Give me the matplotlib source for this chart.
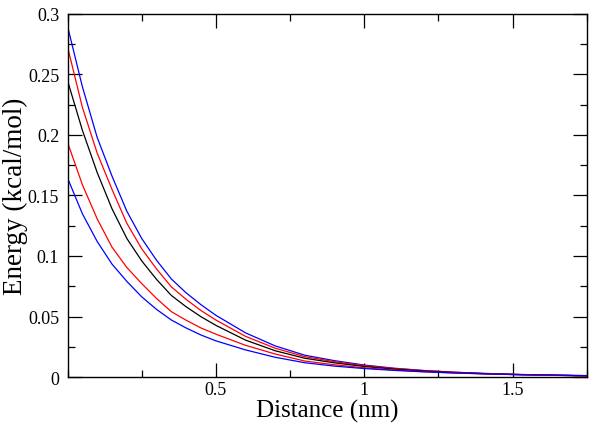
import matplotlib
matplotlib.use("Agg")
import matplotlib.pyplot as plt
from matplotlib.ticker import MultipleLocator

distance = [0, 0.05, 0.1, 0.15, 0.2, 0.25, 0.3, 0.35, 0.4, 0.45, 0.5,
            0.6, 0.7, 0.8, 0.9, 1.0, 1.1, 1.2, 1.3, 1.4, 1.5, 1.6, 1.75]

blue_top = [0.290, 0.240, 0.198, 0.166, 0.137, 0.1145, 0.0965, 0.081, 0.0695, 0.0597, 0.051,
            0.0365, 0.0257, 0.018, 0.0135, 0.0099, 0.0073, 0.0054, 0.0040, 0.0030, 0.0022, 0.0016, 0.0010]
red_top = [0.273, 0.223, 0.185, 0.155, 0.127, 0.106, 0.0893, 0.0745, 0.0641, 0.0549, 0.0471,
           0.0336, 0.0238, 0.0168, 0.0127, 0.0094, 0.0070, 0.0053, 0.0040, 0.0030, 0.0023, 0.0017, 0.0011]
black_mid = [0.245, 0.204, 0.169, 0.139, 0.1145, 0.096, 0.0807, 0.0674, 0.058, 0.0498, 0.0427,
             0.0305, 0.0217, 0.0155, 0.0117, 0.0087, 0.0065, 0.0049, 0.0037, 0.0028, 0.0021, 0.0016, 0.0010]
red_bottom = [0.194, 0.159, 0.1307, 0.1073, 0.0905, 0.0772, 0.0649, 0.054, 0.0469, 0.0405, 0.0354,
              0.0262, 0.019, 0.0132, 0.0101, 0.0076, 0.0058, 0.0044, 0.0034, 0.0026, 0.0020, 0.0015, 0.0010]
blue_bottom = [0.1645, 0.135, 0.112, 0.0933, 0.079, 0.0663, 0.0559, 0.0471, 0.0405, 0.0347, 0.0299,
               0.0224, 0.0163, 0.0118, 0.0090, 0.0070, 0.0055, 0.0043, 0.0034, 0.0027, 0.0021, 0.0017, 0.0012]

plt.rcParams['font.family'] = ['Liberation Serif', 'DejaVu Serif']

fig = plt.figure(figsize=(6, 4.27), dpi=100)
ax = fig.add_axes([0.1125, 0.1147, 0.8655, 0.8503])

series = [
    (blue_top, 'blue'),
    (red_top, 'red'),
    (black_mid, 'black'),
    (red_bottom, 'red'),
    (blue_bottom, 'blue'),
]
for vals, col in series:
    ax.plot(distance, vals, color=col, linewidth=0.9)

ax.set_xlim(0, 1.75)
ax.set_ylim(0, 0.3)
ax.set_xticks([0.5, 1, 1.5])
ax.set_xticklabels(['0.5', '1', '1.5'])
ax.set_yticks([0, 0.05, 0.1, 0.15, 0.2, 0.25, 0.3])
ax.set_yticklabels(['0', '0.05', '0.1', '0.15', '0.2', '0.25', '0.3'])
ax.xaxis.set_minor_locator(MultipleLocator(0.25))
ax.yaxis.set_minor_locator(MultipleLocator(0.025))

ax.tick_params(which='both', direction='in', top=True, right=True, width=0.9, labelsize=13)
ax.tick_params(which='major', length=10)
ax.tick_params(axis='x', which='major', pad=3)
ax.tick_params(axis='y', which='major', pad=6)
ax.tick_params(which='minor', length=5)
for sp in ax.spines.values():
    sp.set_linewidth(1.0)

ax.set_xlabel('Distance (nm)', fontsize=18)
ax.xaxis.label.set_va('center')
ax.xaxis.set_label_coords(0.5, -0.092)
ax.set_ylabel('Energy (kcal/mol)', fontsize=19.5)
ax.yaxis.label.set_va('center')
ax.yaxis.set_label_coords(-0.1, 0.5)

fig.savefig('out.png', dpi=100)
